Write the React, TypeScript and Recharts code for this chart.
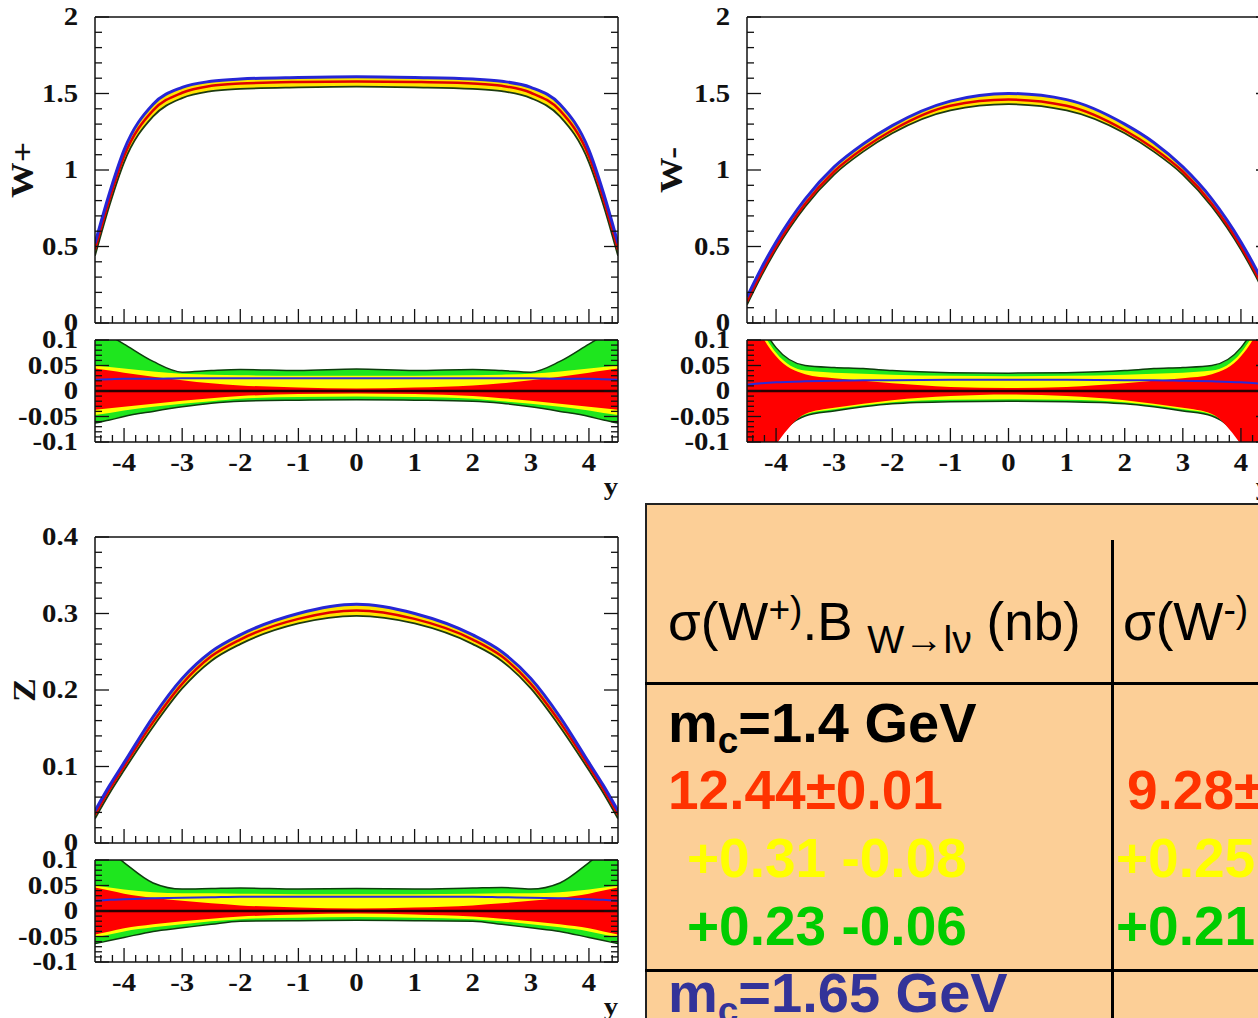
import React from "react";
import { ComposedChart, Area, Line, XAxis, YAxis, ReferenceLine } from "recharts";

const rapidity = [-4.5, -4.25, -4, -3.5, -3, -2.5, -2, -1, 0, 1, 2, 2.5, 3, 3.5, 4, 4.25, 4.5];

// W+ distribution
const wPlusUpper = [0.52, 0.85, 1.13, 1.43, 1.54, 1.58, 1.595, 1.605, 1.61, 1.605, 1.595, 1.58, 1.54, 1.43, 1.13, 0.85, 0.52];
const wPlusCentral = [0.48, 0.81, 1.09, 1.39, 1.505, 1.55, 1.565, 1.575, 1.578, 1.575, 1.565, 1.55, 1.505, 1.39, 1.09, 0.81, 0.48];
const wPlusLower = [0.44, 0.77, 1.05, 1.35, 1.47, 1.515, 1.53, 1.54, 1.545, 1.54, 1.53, 1.515, 1.47, 1.35, 1.05, 0.77, 0.44];

// W- distribution
const wMinusUpper = [0.17, 0.36, 0.53, 0.81, 1.02, 1.17, 1.29, 1.45, 1.5, 1.46, 1.3, 1.18, 1.02, 0.81, 0.53, 0.36, 0.17];
const wMinusCentral = [0.14, 0.33, 0.5, 0.78, 0.99, 1.14, 1.26, 1.42, 1.46, 1.42, 1.26, 1.14, 0.99, 0.78, 0.5, 0.33, 0.14];
const wMinusLower = [0.12, 0.31, 0.48, 0.76, 0.97, 1.12, 1.24, 1.39, 1.43, 1.39, 1.24, 1.12, 0.97, 0.76, 0.48, 0.31, 0.12];

// Z distribution
const zUpper = [0.042, 0.075, 0.105, 0.165, 0.215, 0.25, 0.272, 0.3, 0.312, 0.3, 0.272, 0.25, 0.215, 0.165, 0.105, 0.075, 0.042];
const zCentral = [0.037, 0.07, 0.1, 0.158, 0.208, 0.244, 0.266, 0.293, 0.304, 0.293, 0.266, 0.244, 0.208, 0.158, 0.1, 0.07, 0.037];
const zLower = [0.032, 0.065, 0.095, 0.152, 0.202, 0.238, 0.26, 0.287, 0.297, 0.287, 0.26, 0.238, 0.202, 0.152, 0.095, 0.065, 0.032];

// relative uncertainty bands, W+
const wPlusGreenUp = [0.126, 0.109, 0.092, 0.058, 0.037, 0.04, 0.042, 0.04, 0.043, 0.04, 0.042, 0.04, 0.037, 0.058, 0.092, 0.109, 0.126];
const wPlusYellowUp = [0.05, 0.047, 0.044, 0.038, 0.034, 0.032, 0.031, 0.03, 0.03, 0.03, 0.031, 0.032, 0.034, 0.038, 0.044, 0.047, 0.05];
const wPlusRedUp = [0.044, 0.04, 0.036, 0.028, 0.021, 0.015, 0.011, 0.007, 0.005, 0.007, 0.011, 0.015, 0.021, 0.028, 0.036, 0.04, 0.044];
const wPlusRedLo = [-0.037, -0.034, -0.031, -0.025, -0.019, -0.014, -0.01, -0.006, -0.005, -0.006, -0.01, -0.014, -0.019, -0.025, -0.031, -0.034, -0.037];
const wPlusYellowLo = [-0.047, -0.043, -0.038, -0.031, -0.025, -0.02, -0.015, -0.012, -0.011, -0.012, -0.015, -0.02, -0.025, -0.031, -0.038, -0.043, -0.047];
const wPlusGreenLo = [-0.063, -0.057, -0.05, -0.04, -0.031, -0.024, -0.02, -0.018, -0.017, -0.018, -0.02, -0.024, -0.031, -0.04, -0.05, -0.057, -0.063];
const wPlusBlue = [0.022, 0.023, 0.024, 0.024, 0.025, 0.025, 0.025, 0.025, 0.025, 0.025, 0.025, 0.025, 0.025, 0.024, 0.024, 0.023, 0.022];

// relative uncertainty bands, W-
const wMinusGreenUp = [0.2, 0.13, 0.085, 0.05, 0.046, 0.044, 0.04, 0.036, 0.035, 0.036, 0.04, 0.044, 0.046, 0.05, 0.085, 0.13, 0.2];
const wMinusYellowUp = [0.19, 0.12, 0.075, 0.04, 0.036, 0.034, 0.032, 0.03, 0.029, 0.03, 0.032, 0.034, 0.036, 0.04, 0.075, 0.12, 0.19];
const wMinusRedUp = [0.18, 0.11, 0.068, 0.033, 0.025, 0.02, 0.015, 0.008, 0.006, 0.008, 0.015, 0.02, 0.025, 0.033, 0.068, 0.11, 0.18];
const wMinusRedLo = [-0.2, -0.15, -0.105, -0.045, -0.033, -0.025, -0.018, -0.01, -0.007, -0.01, -0.018, -0.025, -0.033, -0.045, -0.105, -0.15, -0.2];
const wMinusYellowLo = [-0.2, -0.15, -0.1, -0.046, -0.036, -0.028, -0.022, -0.017, -0.016, -0.017, -0.022, -0.028, -0.036, -0.046, -0.1, -0.15, -0.2];
const wMinusGreenLo = [-0.21, -0.16, -0.1, -0.049, -0.039, -0.031, -0.025, -0.021, -0.02, -0.021, -0.025, -0.031, -0.039, -0.049, -0.1, -0.16, -0.21];
const wMinusBlue = [0.012, 0.015, 0.017, 0.019, 0.02, 0.021, 0.021, 0.022, 0.022, 0.022, 0.021, 0.021, 0.02, 0.019, 0.017, 0.015, 0.012];

// relative uncertainty bands, Z
const zGreenUp = [0.14, 0.118, 0.095, 0.055, 0.043, 0.044, 0.045, 0.043, 0.044, 0.043, 0.045, 0.046, 0.043, 0.055, 0.095, 0.118, 0.14];
const zYellowUp = [0.05, 0.046, 0.042, 0.037, 0.035, 0.035, 0.034, 0.033, 0.033, 0.033, 0.034, 0.035, 0.035, 0.037, 0.042, 0.046, 0.05];
const zRedUp = [0.046, 0.04, 0.034, 0.026, 0.02, 0.015, 0.011, 0.007, 0.005, 0.007, 0.011, 0.015, 0.02, 0.026, 0.034, 0.04, 0.046];
const zRedLo = [-0.046, -0.04, -0.034, -0.026, -0.02, -0.015, -0.011, -0.007, -0.005, -0.007, -0.011, -0.015, -0.02, -0.026, -0.034, -0.04, -0.046];
const zYellowLo = [-0.052, -0.046, -0.04, -0.032, -0.026, -0.02, -0.016, -0.013, -0.012, -0.013, -0.016, -0.02, -0.026, -0.032, -0.04, -0.046, -0.052];
const zGreenLo = [-0.064, -0.058, -0.052, -0.04, -0.033, -0.026, -0.02, -0.019, -0.018, -0.019, -0.02, -0.026, -0.033, -0.04, -0.052, -0.058, -0.064];
const zBlue = [0.02, 0.022, 0.023, 0.025, 0.026, 0.027, 0.028, 0.028, 0.028, 0.028, 0.028, 0.027, 0.026, 0.025, 0.023, 0.022, 0.02];

// tick values
const xMajorTicks = [-4, -3, -2, -1, 0, 1, 2, 3, 4];
const wYMajorTicks = [0, 0.5, 1, 1.5, 2];
const zYMajorTicks = [0, 0.1, 0.2, 0.3, 0.4];
const ratioMajorTicks = [-0.1, -0.05, 0, 0.05, 0.1];

const SERIF = "'Liberation Serif', 'Times New Roman', serif";
const SANS = "'Liberation Sans', Arial, sans-serif";

const r3 = (v: number) => Math.round(v * 1000) / 1000;
const steps = (from: number, to: number, step: number) => {
  const out: number[] = [];
  for (let v = from; v <= to + 1e-9; v += step) out.push(r3(v));
  return out;
};
const xMinorTicks = steps(-4.4, 4.4, 0.2);
const has = (list: number[], v: number) => list.some((m) => Math.abs(m - v) < 1e-6);

function label(x: number, y: number, text: string, anchor: "end" | "middle") {
  return (
    <text
      transform={`translate(${x},${y}) scale(1.15,1)`}
      textAnchor={anchor}
      dominantBaseline="central"
      fontFamily={SERIF}
      fontWeight="bold"
      fontSize={25}
      fill="#111"
    >
      {text}
    </text>
  );
}

const xTick = (withLabels: boolean) => (props: any) => {
  const { x, y, payload } = props;
  const big = has(xMajorTicks, payload.value);
  return (
    <g>
      <line x1={x} y1={y} x2={x} y2={y - (big ? 14 : 7)} stroke="#111" strokeWidth={1.3} />
      {withLabels && big ? label(x, y + 21, String(payload.value), "middle") : null}
    </g>
  );
};

const yTick = (majors: number[], side: "left" | "right", withLabels: boolean) => (props: any) => {
  const { x, y, payload } = props;
  const big = has(majors, payload.value);
  const dir = side === "left" ? 1 : -1;
  return (
    <g>
      <line x1={x} y1={y} x2={x + dir * (big ? 14 : 7)} y2={y} stroke="#111" strokeWidth={1.3} />
      {withLabels && big ? label(x - 17, y, String(r3(payload.value)), "end") : null}
    </g>
  );
};

const frame = { stroke: "#111", strokeWidth: 1.5 };

function MainPlot({ left, top, upper, central, lower, domain, majors, minor }: any) {
  const rows = rapidity.map((x, i) => ({
    x,
    band: [lower[i], upper[i]],
    upper: upper[i],
    central: central[i],
    lower: lower[i],
  }));
  return (
    <div style={{ position: "absolute", left, top }}>
      <ComposedChart width={640} height={340} data={rows} margin={{ top: 15, right: 0, bottom: 0, left: 0 }}>
        <XAxis xAxisId="b" dataKey="x" type="number" domain={[-4.5, 4.5]} allowDataOverflow ticks={xMinorTicks} interval={0} tickSize={0} tickMargin={0} tickLine={false} axisLine={frame} tick={xTick(false)} height={18} />
        <XAxis xAxisId="t" orientation="top" dataKey="x" type="number" domain={[-4.5, 4.5]} allowDataOverflow tick={false} tickLine={false} axisLine={frame} height={1} />
        <YAxis yAxisId="l" type="number" domain={domain} allowDataOverflow ticks={minor} interval={0} tickSize={0} tickMargin={0} tickLine={false} axisLine={frame} tick={yTick(majors, "left", true)} width={95} />
        <YAxis yAxisId="r" orientation="right" type="number" domain={domain} allowDataOverflow ticks={minor} interval={0} tickSize={0} tickMargin={0} tickLine={false} axisLine={frame} tick={yTick(majors, "right", false)} width={22} />
        <Area xAxisId="b" yAxisId="l" dataKey="band" type="monotone" fill="#ffe400" fillOpacity={1} stroke="none" isAnimationActive={false} />
        <Line xAxisId="b" yAxisId="l" dataKey="lower" type="monotone" stroke="#1d3a10" strokeWidth={1.8} dot={false} isAnimationActive={false} />
        <Line xAxisId="b" yAxisId="l" dataKey="central" type="monotone" stroke="#e00000" strokeWidth={2.5} dot={false} isAnimationActive={false} />
        <Line xAxisId="b" yAxisId="l" dataKey="upper" type="monotone" stroke="#2626d6" strokeWidth={3} dot={false} isAnimationActive={false} />
      </ComposedChart>
    </div>
  );
}

function RatioPlot({ left, top, greenUp, greenLo, yellowUp, yellowLo, redUp, redLo, blue }: any) {
  const rows = rapidity.map((x, i) => ({
    x,
    green: [greenLo[i], greenUp[i]],
    yellow: [yellowLo[i], yellowUp[i]],
    red: [redLo[i], redUp[i]],
    blue: blue[i],
  }));
  const minor = steps(-0.1, 0.1, 0.01);
  return (
    <div style={{ position: "absolute", left, top }}>
      <ComposedChart width={640} height={180} data={rows} margin={{ top: 17, right: 0, bottom: 0, left: 0 }}>
        <XAxis xAxisId="b" dataKey="x" type="number" domain={[-4.5, 4.5]} allowDataOverflow ticks={xMinorTicks} interval={0} tickSize={0} tickMargin={0} tickLine={false} axisLine={frame} tick={xTick(true)} height={60} />
        <XAxis xAxisId="t" orientation="top" dataKey="x" type="number" domain={[-4.5, 4.5]} allowDataOverflow tick={false} tickLine={false} axisLine={frame} height={1} />
        <YAxis yAxisId="l" type="number" domain={[-0.1, 0.1]} allowDataOverflow ticks={minor} interval={0} tickSize={0} tickMargin={0} tickLine={false} axisLine={frame} tick={yTick(ratioMajorTicks, "left", true)} width={95} />
        <YAxis yAxisId="r" orientation="right" type="number" domain={[-0.1, 0.1]} allowDataOverflow ticks={minor} interval={0} tickSize={0} tickMargin={0} tickLine={false} axisLine={frame} tick={yTick(ratioMajorTicks, "right", false)} width={22} />
        <Area xAxisId="b" yAxisId="l" dataKey="green" type="monotone" fill="#1ee61e" fillOpacity={1} stroke="#0d3d0d" strokeWidth={1.5} isAnimationActive={false} />
        <Area xAxisId="b" yAxisId="l" dataKey="yellow" type="monotone" fill="#ffff00" fillOpacity={1} stroke="none" isAnimationActive={false} />
        <Area xAxisId="b" yAxisId="l" dataKey="red" type="monotone" fill="#ff0000" fillOpacity={1} stroke="none" isAnimationActive={false} />
        <Line xAxisId="b" yAxisId="l" dataKey="blue" type="monotone" stroke="#2b2bd8" strokeWidth={2} dot={false} isAnimationActive={false} />
        <ReferenceLine xAxisId="b" yAxisId="l" y={0} stroke="#2a0000" strokeWidth={2.5} />
      </ComposedChart>
    </div>
  );
}

function AxisTitle({ x, y, text, rotate }: any) {
  return (
    <div
      style={{
        position: "absolute",
        left: x,
        top: y,
        transform: `translate(-50%,-50%) ${rotate ? "rotate(-90deg)" : ""} scale(1.15,1)`,
        fontFamily: SERIF,
        fontWeight: "bold",
        fontSize: rotate ? 31 : 25,
        lineHeight: 1,
        whiteSpace: "nowrap",
        color: "#111",
      }}
    >
      {text}
    </div>
  );
}

function Panel({ left, top, title, titleX, main, ratio }: any) {
  return (
    <>
      <MainPlot left={left} top={top} {...main} />
      <RatioPlot left={left} top={top + 321} {...ratio} />
      <AxisTitle x={titleX} y={top + 169} text={title} rotate />
      <AxisTitle x={left + 611} y={top + 485} text="y" />
    </>
  );
}

function Cell({ x, baseline, size, color, bold, children }: any) {
  return (
    <div
      style={{
        position: "absolute",
        left: x,
        top: baseline - 0.8465 * size,
        fontFamily: SANS,
        fontWeight: bold ? "bold" : "normal",
        fontSize: size,
        lineHeight: 1,
        whiteSpace: "nowrap",
        color,
      }}
    >
      {children}
    </div>
  );
}

const sup = { fontSize: "0.7em", position: "relative" as const, top: "-0.5em" };
const sub = { fontSize: "0.74em", position: "relative" as const, top: "0.32em" };
const subC = { fontSize: "0.66em", position: "relative" as const, top: "0.3em" };

function Table() {
  return (
    <>
      <div style={{ position: "absolute", left: 645, top: 503, width: 700, height: 600, background: "#fccf97", borderTop: "2px solid #222", borderLeft: "2px solid #222" }} />
      <div style={{ position: "absolute", left: 1111, top: 540, width: 3, height: 500, background: "#000" }} />
      <div style={{ position: "absolute", left: 645, top: 682, width: 700, height: 3, background: "#000" }} />
      <div style={{ position: "absolute", left: 645, top: 969, width: 700, height: 3, background: "#000" }} />
      <Cell x={668} baseline={640} size={53} color="#000">
        σ(W<span style={sup}>+)</span>.B <span style={sub}>W→lν</span> (nb)
      </Cell>
      <Cell x={1123} baseline={640} size={53} color="#000">
        σ(W<span style={sup}>-)</span>
      </Cell>
      <Cell x={668} baseline={742} size={56} color="#000" bold>
        m<span style={subC}>c</span>=1.4 GeV
      </Cell>
      <Cell x={668} baseline={810} size={55} color="#ff3300" bold>12.44±0.01</Cell>
      <Cell x={1127} baseline={810} size={55} color="#ff3300" bold>9.28±</Cell>
      <Cell x={687} baseline={878} size={55} color="#ffff00" bold>+0.31 -0.08</Cell>
      <Cell x={1116} baseline={878} size={55} color="#ffff00" bold>+0.25</Cell>
      <Cell x={687} baseline={946} size={55} color="#00cc00" bold>+0.23 -0.06</Cell>
      <Cell x={1116} baseline={946} size={55} color="#00cc00" bold>+0.21</Cell>
      <Cell x={668} baseline={1012} size={56} color="#333399" bold>
        m<span style={subC}>c</span>=1.65 GeV
      </Cell>
    </>
  );
}

export default function App() {
  return (
    <div style={{ position: "absolute", left: 0, top: 0, width: 1258, height: 1018, overflow: "hidden", background: "#fff" }}>
      <Panel
        left={0}
        top={1}
        title="W+"
        titleX={22}
        main={{ upper: wPlusUpper, central: wPlusCentral, lower: wPlusLower, domain: [0, 2], majors: wYMajorTicks, minor: steps(0, 2, 0.1) }}
        ratio={{ greenUp: wPlusGreenUp, greenLo: wPlusGreenLo, yellowUp: wPlusYellowUp, yellowLo: wPlusYellowLo, redUp: wPlusRedUp, redLo: wPlusRedLo, blue: wPlusBlue }}
      />
      <Panel
        left={652}
        top={1}
        title="W-"
        titleX={671}
        main={{ upper: wMinusUpper, central: wMinusCentral, lower: wMinusLower, domain: [0, 2], majors: wYMajorTicks, minor: steps(0, 2, 0.1) }}
        ratio={{ greenUp: wMinusGreenUp, greenLo: wMinusGreenLo, yellowUp: wMinusYellowUp, yellowLo: wMinusYellowLo, redUp: wMinusRedUp, redLo: wMinusRedLo, blue: wMinusBlue }}
      />
      <Panel
        left={0}
        top={521}
        title="Z"
        titleX={24}
        main={{ upper: zUpper, central: zCentral, lower: zLower, domain: [0, 0.4], majors: zYMajorTicks, minor: steps(0, 0.4, 0.02) }}
        ratio={{ greenUp: zGreenUp, greenLo: zGreenLo, yellowUp: zYellowUp, yellowLo: zYellowLo, redUp: zRedUp, redLo: zRedLo, blue: zBlue }}
      />
      <Table />
    </div>
  );
}
